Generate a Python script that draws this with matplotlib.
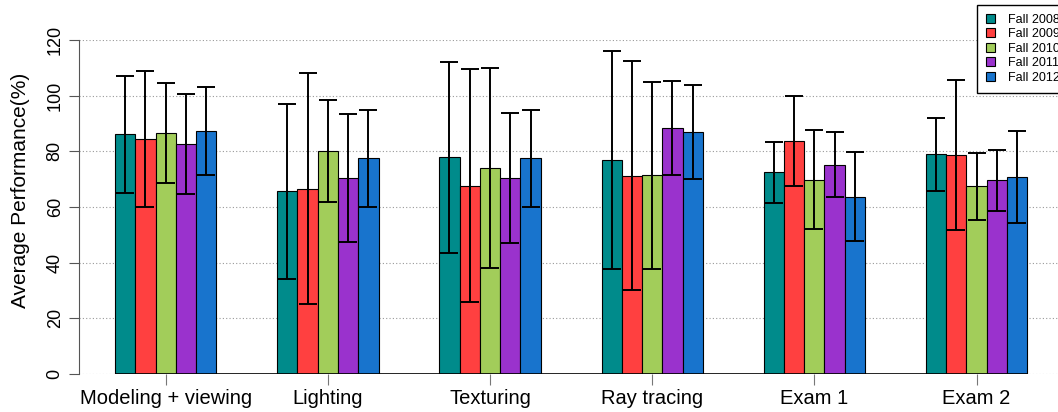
import numpy as np
import matplotlib.pyplot as plt

plt.rcParams['font.family'] = ['Liberation Sans', 'DejaVu Sans']

categories = ['Modeling + viewing', 'Lighting', 'Texturing', 'Ray tracing', 'Exam 1', 'Exam 2']
years = ['Fall 2008', 'Fall 2009', 'Fall 2010', 'Fall 2011', 'Fall 2012']
colors = ['#008B8B', '#FF4040', '#A2CD5A', '#9A32CD', '#1874CD']

# mean per category, one list per year
fall2008 = [86.1, 65.6, 77.8, 77.0, 72.5, 78.9]
fall2009 = [84.3, 66.5, 67.7, 71.3, 83.7, 78.6]
fall2010 = [86.6, 80.1, 74.1, 71.4, 69.8, 67.4]
fall2011 = [82.6, 70.4, 70.4, 88.3, 75.2, 69.6]
fall2012 = [87.2, 77.5, 77.5, 86.8, 63.7, 70.9]

# error (std) per category
err2008 = [21.0, 31.3, 34.2, 39.1, 11.0, 13.1]
err2009 = [24.4, 41.5, 42.0, 41.0, 16.2, 27.0]
err2010 = [18.0, 18.4, 35.9, 33.6, 17.7, 12.1]
err2011 = [18.0, 23.1, 23.2, 16.8, 11.6, 11.0]
err2012 = [15.8, 17.5, 17.5, 16.9, 15.9, 16.5]

means = [fall2008, fall2009, fall2010, fall2011, fall2012]
errs = [err2008, err2009, err2010, err2011, err2012]

fig = plt.figure(figsize=(10.58, 4.12), dpi=100)
ax = fig.add_axes([79 / 1058, 38 / 412, 979 / 1058, 334 / 412])

n_grp = len(categories)
grp_x = np.arange(n_grp) * 8

for i in range(len(years)):
    x = grp_x + i + 0.5
    ax.bar(x, means[i], width=1.0, color=colors[i], edgecolor='black',
           linewidth=0.8, label=years[i], zorder=2)
    ax.errorbar(x, means[i], yerr=errs[i], fmt='none', ecolor='black',
                elinewidth=1.4, capsize=6.2, capthick=1.4, zorder=3)

# dotted grid
for yv in range(0, 121, 20):
    ax.axhline(yv, color='#999999', linestyle=(0, (1, 2)), linewidth=0.8, zorder=1)

# x axis line across the bars
ax.hlines(0, 0, grp_x[-1] + 5, color='black', linewidth=1.2, zorder=4)

ax.set_xlim(-1.776, 46.52)
ax.set_ylim(0, 120)

for s in ['top', 'right', 'bottom']:
    ax.spines[s].set_visible(False)
ax.spines['left'].set_bounds(0, 120)
ax.spines['left'].set_color('#555555')

ax.set_yticks(range(0, 121, 20))
ax.set_yticklabels([str(v) for v in range(0, 121, 20)], rotation=90, va='center', fontsize=13)
ax.tick_params(axis='y', length=7, color='#555555', pad=4)

ax.set_xticks(grp_x + 2.5)
ax.set_xticklabels(categories, fontsize=14.5)
ax.tick_params(axis='x', length=8, color='#777777', pad=3)

ax.set_ylabel('Average Performance(%)', fontsize=15)
ax.yaxis.set_label_coords(-0.05, 0.55)

fig.legend(loc='upper left', bbox_to_anchor=(977 / 1058, 1 - 5 / 412),
           borderaxespad=0, fontsize=9, frameon=True, fancybox=False,
           edgecolor='black', handlelength=0.75, handleheight=0.75,
           handletextpad=1.0, labelspacing=0.2, borderpad=0.7, framealpha=1)

fig.savefig('out.png', dpi=100)
